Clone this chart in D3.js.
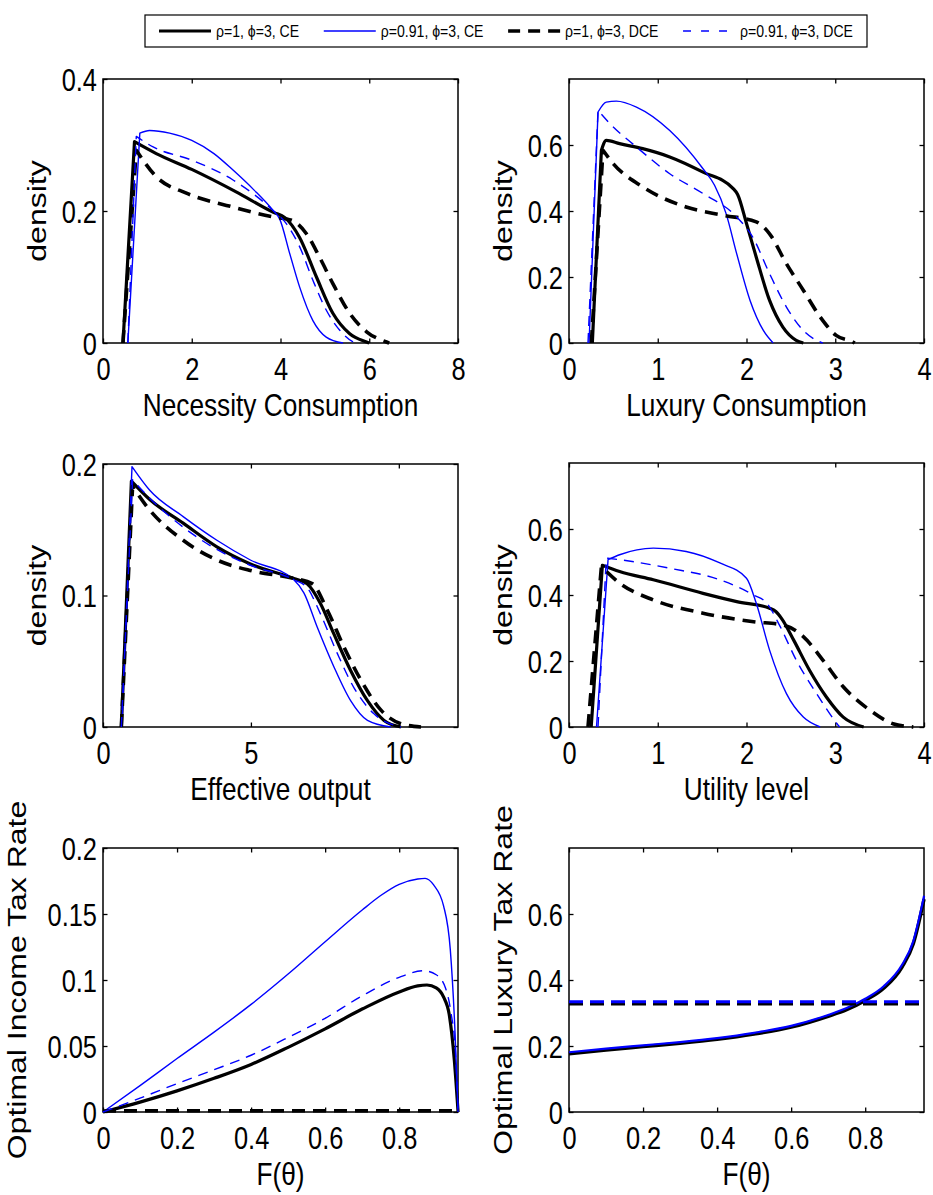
<!DOCTYPE html>
<html>
<head>
<meta charset="utf-8">
<script src="https://cdn.jsdelivr.net/npm/d3@7"></script>
<style>
  body { margin: 0; background: #fff; }
  svg { display: block; font-family: "Liberation Sans", Arial, Helvetica, sans-serif; }
</style>
</head>
<body>
<svg id="fig" width="933" height="1195"></svg>
<script>
// ---- series names (legend) ----
const seriesNames = ["ρ=1, ϕ=3, CE", "ρ=0.91, ϕ=3, CE", "ρ=1, ϕ=3, DCE", "ρ=0.91, ϕ=3, DCE"];

// ---- Necessity consumption densities [value, density] ----
const necCE1    = [[0.45,0],[0.71,0.305],[1.2,0.287],[2,0.263],[3,0.229],[3.84,0.198],[4.1,0.19],[4.43,0.16],[4.81,0.10],[5.18,0.045],[5.56,0.014],[5.94,0.0015],[6.0,0]];
const necCE091  = [[0.56,0],[0.83,0.318],[1.05,0.322],[1.5,0.318],[2,0.307],[2.5,0.287],[2.93,0.262],[3.4,0.232],[3.83,0.201],[3.98,0.188],[4.21,0.135],[4.43,0.085],[4.73,0.034],[5.03,0.009],[5.41,0]];
const necDCE1   = [[0.45,0],[0.75,0.292],[1.2,0.252],[1.88,0.227],[2.93,0.206],[3.83,0.191],[4.25,0.186],[4.58,0.166],[4.88,0.13],[5.18,0.09],[5.56,0.045],[5.94,0.017],[6.39,0.0015],[6.45,0]];
const necDCE091 = [[0.56,0],[0.75,0.313],[1.13,0.297],[2,0.277],[2.93,0.247],[3.83,0.201],[4.13,0.181],[4.43,0.146],[4.73,0.095],[5.03,0.05],[5.34,0.019],[5.64,0.0015],[5.7,0]];

// ---- Luxury consumption densities ----
const luxCE1    = [[0.263,0],[0.365,0.584],[0.42,0.614],[0.57,0.604],[0.83,0.589],[1.135,0.564],[1.51,0.518],[1.85,0.468],[1.9,0.45],[2.0,0.362],[2.11,0.26],[2.26,0.129],[2.41,0.048],[2.56,0.008],[2.64,0]];
const luxCE091  = [[0.226,0],[0.327,0.70],[0.42,0.73],[0.534,0.733],[0.76,0.715],[1.135,0.644],[1.51,0.528],[1.64,0.478],[1.77,0.392],[1.89,0.27],[2.04,0.129],[2.19,0.038],[2.30,0]];
const luxDCE1   = [[0.252,0],[0.383,0.584],[0.5,0.543],[0.83,0.473],[1.32,0.412],[1.74,0.387],[2.11,0.367],[2.26,0.331],[2.45,0.24],[2.64,0.16],[2.83,0.079],[3.01,0.023],[3.2,0.003],[3.22,0]];
const luxDCE091 = [[0.214,0],[0.327,0.705],[0.46,0.665],[0.76,0.594],[1.135,0.513],[1.51,0.453],[1.89,0.382],[2.07,0.321],[2.26,0.21],[2.45,0.109],[2.64,0.038],[2.83,0.003],[2.86,0]];

// ---- Effective output densities ----
const effCE1    = [[0.62,0],[0.96,0.187],[1.58,0.173],[2.71,0.155],[3.85,0.137],[4.98,0.124],[6.45,0.113],[6.9,0.109],[7.35,0.094],[7.8,0.071],[8.37,0.043],[8.94,0.02],[9.5,0.005],[10.07,0]];
const effCE091  = [[0.64,0],[0.98,0.198],[1.58,0.180],[2.71,0.16],[3.85,0.142],[4.98,0.127],[6.45,0.112],[6.79,0.102],[7.24,0.076],[7.8,0.046],[8.37,0.02],[8.94,0.005],[9.73,0]];
const effDCE1   = [[0.62,0],[1.0,0.183],[1.47,0.168],[2.71,0.142],[3.85,0.127],[4.98,0.119],[6.45,0.113],[7.07,0.109],[7.58,0.089],[8.14,0.061],[8.71,0.036],[9.39,0.013],[10.07,0.0025],[10.75,0]];
const effDCE091 = [[0.62,0],[1.0,0.188],[1.58,0.174],[2.71,0.152],[3.85,0.135],[4.98,0.123],[6.45,0.112],[6.9,0.106],[7.35,0.086],[7.92,0.056],[8.48,0.03],[9.16,0.01],[10.07,0]];

// ---- Utility level densities ----
const utlCE1    = [[0.25,0],[0.376,0.49],[0.57,0.471],[0.95,0.446],[1.51,0.405],[1.89,0.38],[2.26,0.36],[2.33,0.35],[2.4,0.327],[2.53,0.264],[2.71,0.172],[2.9,0.091],[3.09,0.03],[3.32,0]];
const utlCE091  = [[0.31,0],[0.44,0.507],[0.57,0.522],[0.95,0.542],[1.32,0.532],[1.7,0.497],[2.0,0.451],[2.11,0.375],[2.26,0.233],[2.45,0.101],[2.64,0.03],[2.83,0]];
const utlDCE1   = [[0.214,0],[0.365,0.486],[0.57,0.436],[0.95,0.385],[1.51,0.345],[2.08,0.319],[2.41,0.309],[2.64,0.274],[2.86,0.203],[3.09,0.122],[3.39,0.051],[3.65,0.01],[3.88,0]];
const utlDCE091 = [[0.327,0],[0.42,0.512],[0.57,0.507],[1.135,0.481],[1.7,0.446],[2.08,0.4],[2.23,0.375],[2.38,0.304],[2.56,0.203],[2.79,0.101],[3.02,0.01],[3.05,0]];

// ---- Optimal income tax rate against F(θ) ----
const incCE1    = [[0,0],[0.1,0.0075],[0.2,0.016],[0.3,0.0255],[0.4,0.036],[0.5,0.049],[0.6,0.063],[0.7,0.078],[0.8,0.091],[0.85,0.0955],[0.875,0.0962],[0.9,0.094],[0.92,0.087],[0.935,0.074],[0.949,0.039],[0.959,0]];
const incCE091  = [[0,0],[0.1,0.020],[0.2,0.0405],[0.3,0.0605],[0.4,0.0815],[0.5,0.1045],[0.6,0.129],[0.7,0.153],[0.75,0.164],[0.8,0.1725],[0.85,0.1765],[0.87,0.177],[0.893,0.172],[0.92,0.156],[0.938,0.123],[0.951,0.059],[0.959,0]];
const incDCE1   = [[0,0.0008],[0.2,0.001],[0.4,0.001],[0.6,0.001],[0.8,0.001],[0.959,0.001]];
const incDCE091 = [[0,0],[0.1,0.0105],[0.2,0.0215],[0.3,0.032],[0.4,0.043],[0.5,0.0565],[0.6,0.071],[0.7,0.088],[0.8,0.102],[0.866,0.107],[0.9,0.104],[0.925,0.094],[0.94,0.075],[0.952,0.045],[0.959,0]];

// ---- Optimal luxury tax rate against F(θ) ----
const ltxCE1    = [[0,0.176],[0.1,0.188],[0.2,0.198],[0.3,0.208],[0.4,0.22],[0.5,0.236],[0.6,0.257],[0.7,0.29],[0.75,0.31],[0.8,0.338],[0.85,0.375],[0.9,0.44],[0.93,0.51],[0.959,0.645]];
const ltxCE091  = [[0,0.181],[0.1,0.192],[0.2,0.202],[0.3,0.212],[0.4,0.224],[0.5,0.24],[0.6,0.261],[0.7,0.294],[0.75,0.315],[0.8,0.343],[0.85,0.381],[0.9,0.447],[0.93,0.518],[0.959,0.655]];
const ltxDCE1   = [[0,0.327],[0.959,0.327]];
const ltxDCE091 = [[0,0.334],[0.959,0.334]];

// ---- tick values ----
const ticksNecX = [0,2,4,6,8];
const ticksNecY = [0,0.2,0.4];
const ticks04X  = [0,1,2,3,4];
const ticks06Y  = [0,0.2,0.4,0.6];
const ticksEffX = [0,5,10];
const ticksEffY = [0,0.1,0.2];
const ticksFX   = [0,0.2,0.4,0.6,0.8];
const ticksIncY = [0,0.05,0.1,0.15,0.2];

// ---- styles ----
const lineStyles = [
  { color: "#000000", width: 3.2, dash: null },
  { color: "#0000ff", width: 1.4, dash: null },
  { color: "#000000", width: 3.6, dash: "13,8" },
  { color: "#0000ff", width: 1.4, dash: "10,7" }
];
// the luxury-tax panel uses heavier strokes for the blue runs
const heavyStyles = [
  { color: "#000000", width: 3.4, dash: null },
  { color: "#0000ff", width: 2.2, dash: null },
  { color: "#000000", width: 3.0, dash: "14,7" },
  { color: "#0000ff", width: 3.0, dash: "14,7" }
];
const SX = 0.82;          // horizontal squeeze of the lettering
const TICK_FONT = 31;
const LABEL_FONT = 32;

const panels = [
  { box: [103, 79, 458, 343],  xd: [0, 8],      yd: [0, 0.4], xt: ticksNecX, yt: ticksNecY, corner: true, styles: lineStyles,
    xl: "Necessity Consumption", yl: "density", ylOff: 57, data: [necCE1, necCE091, necDCE1, necDCE091] },
  { box: [569, 79, 924, 343],  xd: [0, 4],      yd: [0, 0.8], xt: ticks04X, yt: ticks06Y, corner: true, styles: lineStyles,
    xl: "Luxury Consumption", yl: "density", ylOff: 57, data: [luxCE1, luxCE091, luxDCE1, luxDCE091] },
  { box: [103, 464, 458, 727], xd: [0, 12],     yd: [0, 0.2], xt: ticksEffX, yt: ticksEffY, corner: true, styles: lineStyles,
    xl: "Effective output", yl: "density", ylOff: 57, data: [effCE1, effCE091, effDCE1, effDCE091] },
  { box: [569, 463, 924, 727], xd: [0, 4],      yd: [0, 0.8], xt: ticks04X, yt: ticks06Y, corner: true, styles: lineStyles,
    xl: "Utility level", yl: "density", ylOff: 57, data: [utlCE1, utlCE091, utlDCE1, utlDCE091] },
  { box: [103, 848, 458, 1112], xd: [0, 0.9588], yd: [0, 0.2], xt: ticksFX, yt: ticksIncY, corner: false, styles: lineStyles,
    xl: "F(θ)", yl: "Optimal Income Tax Rate", ylOff: 77, data: [incCE1, incCE091, incDCE1, incDCE091] },
  { box: [569, 848, 924, 1112], xd: [0, 0.9588], yd: [0, 0.8], xt: ticksFX, yt: ticks06Y, corner: false, styles: heavyStyles,
    xl: "F(θ)", yl: "Optimal Luxury Tax Rate", ylOff: 57, data: [ltxCE1, ltxCE091, ltxDCE1, ltxDCE091] }
];

const svg = d3.select("#fig");
svg.append("rect").attr("width", 933).attr("height", 1195).attr("fill", "#fff");
const fmt = d3.format("~g");
const TICK = 4.5;

panels.forEach(p => {
  const [x0, y0, x1, y1] = p.box;
  const x = d3.scaleLinear().domain(p.xd).range([x0, x1]);
  const y = d3.scaleLinear().domain(p.yd).range([y1, y0]);
  const g = svg.append("g");

  // frame
  g.append("rect").attr("x", x0).attr("y", y0).attr("width", x1 - x0).attr("height", y1 - y0)
    .attr("fill", "none").attr("stroke", "#000").attr("stroke-width", 1.5);

  // inward ticks on all four sides
  const bottom = g.append("g").attr("transform", `translate(0,${y1})`)
    .call(d3.axisBottom(x).tickValues(p.xt).tickSizeInner(-TICK).tickSizeOuter(0).tickPadding(15).tickFormat(fmt));
  const left = g.append("g").attr("transform", `translate(${x0},0)`)
    .call(d3.axisLeft(y).tickValues(p.yt).tickSizeInner(-TICK).tickSizeOuter(0).tickPadding(7).tickFormat(fmt));
  g.append("g").attr("transform", `translate(0,${y0})`)
    .call(d3.axisTop(x).tickValues(p.xt).tickSizeInner(-TICK).tickSizeOuter(0).tickFormat(""));
  g.append("g").attr("transform", `translate(${x1},0)`)
    .call(d3.axisRight(y).tickValues(p.yt).tickSizeInner(-TICK).tickSizeOuter(0).tickFormat(""));
  g.selectAll(".domain").remove();
  g.selectAll(".tick line").attr("stroke", "#000").attr("stroke-width", 1.3);

  bottom.selectAll("text")
    .attr("font-size", TICK_FONT).attr("font-family", null).attr("fill", "#000")
    .attr("transform", `scale(${SX},1)`);
  left.selectAll("text")
    .attr("font-size", TICK_FONT).attr("font-family", null).attr("fill", "#000")
    .attr("x", -6 / SX).attr("dy", "0.36em")
    .attr("transform", `scale(${SX},1)`);

  // series: the rise to the first corner is straight, the rest is smoothed
  const lineLin = d3.line().x(d => x(d[0])).y(d => y(d[1]));
  const lineMono = d3.line().x(d => x(d[0])).y(d => y(d[1])).curve(d3.curveMonotoneX);
  p.data.forEach((s, i) => {
    const st = p.styles[i];
    const d = p.corner
      ? lineLin(s.slice(0, 2)) + lineMono(s.slice(1)).replace(/^M/, "L")
      : lineMono(s);
    g.append("path").attr("d", d)
      .attr("fill", "none").attr("stroke", st.color).attr("stroke-width", st.width)
      .attr("stroke-linejoin", "round")
      .attr("stroke-dasharray", st.dash);
  });

  // axis titles
  g.append("text")
    .attr("transform", `translate(${(x0 + x1) / 2},${y1 + 73}) scale(${SX},1)`)
    .attr("text-anchor", "middle").attr("font-size", LABEL_FONT).text(p.xl);
  g.append("text")
    .attr("transform", `translate(${x0 - p.ylOff},${(y0 + y1) / 2}) scale(${SX},1) rotate(-90)`)
    .attr("text-anchor", "middle").attr("font-size", LABEL_FONT).text(p.yl);
});

// ---- legend ----
const LEG = { x0: 145, x1: 867, y0: 15, y1: 47, pad: 14, sample: 52, gap: 5, font: 16, sx: 0.88 };
const legendDash = ["", "", "12,8", "8,10"];
const lg = svg.append("g");
lg.append("rect").attr("x", LEG.x0).attr("y", LEG.y0).attr("width", LEG.x1 - LEG.x0).attr("height", LEG.y1 - LEG.y0)
  .attr("fill", "#fff").attr("stroke", "#000").attr("stroke-width", 1.2);
const cy = (LEG.y0 + LEG.y1) / 2;
const texts = seriesNames.map(n => lg.append("text").attr("font-size", LEG.font).attr("dy", "0.36em").text(n));
const widths = texts.map(t => t.node().getComputedTextLength() * LEG.sx);
const used = widths.reduce((a, b) => a + b, 0) + seriesNames.length * (LEG.sample + LEG.gap);
const between = (LEG.x1 - LEG.x0 - 2 * LEG.pad - used) / (seriesNames.length - 1);
let cx = LEG.x0 + LEG.pad;
seriesNames.forEach((n, i) => {
  const st = lineStyles[i];
  lg.append("line").attr("x1", cx).attr("x2", cx + LEG.sample).attr("y1", cy).attr("y2", cy)
    .attr("stroke", st.color).attr("stroke-width", st.width)
    .attr("stroke-dasharray", legendDash[i] || null);
  texts[i].attr("transform", `translate(${cx + LEG.sample + LEG.gap},${cy}) scale(${LEG.sx},1)`);
  cx += LEG.sample + LEG.gap + widths[i] + between;
});
</script>
</body>
</html>
